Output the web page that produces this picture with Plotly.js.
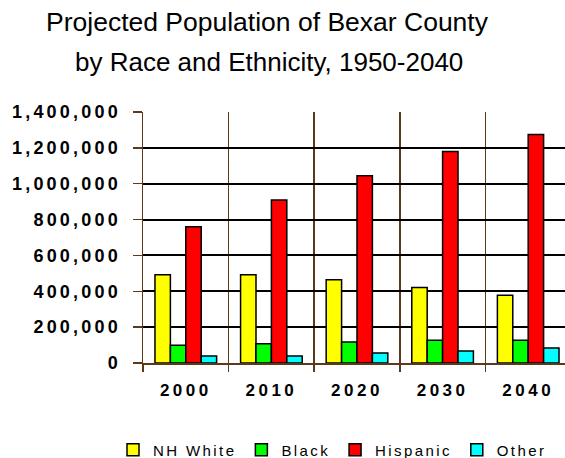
<!DOCTYPE html>
<html>
<head>
<meta charset="utf-8">
<script src="https://cdn.plot.ly/plotly-3.0.1.min.js"></script>
<style>
  html, body { margin: 0; padding: 0; background: #fff; }
  #chart { width: 565px; height: 458px; }
  .ytick text { letter-spacing: 3.2px; }
  .x2tick text { letter-spacing: 3.5px; }
  .legendtext { letter-spacing: 2.4px; }
</style>
</head>
<body>
<div id="chart"></div>
<script>
// Data
const years = ['2000', '2010', '2020', '2030', '2040'];
const seriesNames = ['NH White', 'Black', 'Hispanic', 'Other'];
const nhWhite  = [492000, 492000, 464000, 421000, 378000];
const black    = [99000, 108000, 117000, 127000, 127000];
const hispanic = [760000, 909000, 1045000, 1180000, 1275000];
const other    = [39000, 39000, 56000, 67000, 84000];
const yTicks = [0, 200000, 400000, 600000, 800000, 1000000, 1200000, 1400000];
const colors = ['#FFFF00', '#00FF00', '#FF0000', '#00FFFF'];

const seriesValues = [nhWhite, black, hispanic, other];
const xIdx = years.map((_, i) => i);
const boundaries = years.map((_, i) => i - 0.5).concat([years.length - 0.5]);

const brown = '#5a3a1a';
const fontFam = '"Liberation Sans", Arial, sans-serif';

const traces = seriesNames.map((name, k) => ({
  type: 'bar',
  name: name,
  x: xIdx,
  y: seriesValues[k],
  xaxis: 'x',
  yaxis: 'y',
  marker: { color: colors[k], line: { color: '#000', width: 1.5 } },
  hoverinfo: 'x+y+name'
}));

// invisible trace so the year-label axis is rendered
traces.push({
  type: 'scatter', x: [0], y: [0], xaxis: 'x2', yaxis: 'y',
  mode: 'markers', marker: { opacity: 0 }, showlegend: false, hoverinfo: 'skip'
});

const layout = {
  width: 565,
  height: 458,
  paper_bgcolor: '#fff',
  plot_bgcolor: '#fff',
  margin: { l: 143, r: 0, t: 112, b: 95, autoexpand: false },
  barmode: 'group',
  bargap: 0.28,
  bargroupgap: 0,
  showlegend: true,
  font: { family: fontFam, color: '#000' },
  title: {
    text: 'Projected Population of Bexar County',
    font: { family: fontFam, size: 26.5, color: '#000' },
    x: 267 / 565, xanchor: 'center', xref: 'container',
    y: 1 - 22 / 458, yanchor: 'middle', yref: 'container'
  },
  annotations: [{
    text: 'by Race and Ethnicity, 1950-2040',
    xref: 'paper', yref: 'paper',
    x: (269 - 143) / 422, y: (363 - 62) / 251,
    xanchor: 'center', yanchor: 'middle',
    showarrow: false,
    font: { family: fontFam, size: 26, color: '#000' }
  }],
  xaxis: {
    type: 'linear',
    range: [-0.5, 4.43],
    tickmode: 'array',
    tickvals: boundaries,
    showticklabels: false,
    ticks: 'outside',
    ticklen: 7,
    tickwidth: 1.5,
    tickcolor: brown,
    showgrid: true,
    gridcolor: brown,
    gridwidth: 1.5,
    zeroline: false,
    showline: true,
    linecolor: brown,
    linewidth: 1.5,
    fixedrange: true
  },
  xaxis2: {
    type: 'linear',
    overlaying: 'x',
    matches: 'x',
    anchor: 'y',
    side: 'bottom',
    range: [-0.5, 4.43],
    tickmode: 'array',
    tickvals: xIdx,
    ticktext: years,
    ticks: '',
    showgrid: false,
    zeroline: false,
    showline: false,
    ticklabelstandoff: 15,
    tickfont: { family: fontFam, size: 17, color: '#000', weight: 'bold' }
  },
  yaxis: {
    range: [0, 1400000],
    tickmode: 'array',
    tickvals: yTicks,
    tickformat: ',d',
    ticks: 'outside',
    ticklen: 9,
    tickwidth: 1.5,
    tickcolor: brown,
    showgrid: true,
    gridcolor: '#000',
    gridwidth: 2,
    zeroline: false,
    showline: true,
    linecolor: brown,
    linewidth: 1.5,
    ticklabelstandoff: 8,
    tickfont: { family: fontFam, size: 18, color: '#000', weight: 'bold' },
    fixedrange: true
  },
  legend: {
    orientation: 'h',
    xref: 'paper',
    x: (113 - 143) / 422, xanchor: 'left',
    y: -0.281, yanchor: 'top',
    font: { family: fontFam, size: 15, color: '#000' },
    traceorder: 'normal',
    itemwidth: 30,
    bgcolor: 'rgba(0,0,0,0)'
  }
};

Plotly.newPlot('chart', traces, layout, { displayModeBar: false, staticPlot: true });
</script>
</body>
</html>
